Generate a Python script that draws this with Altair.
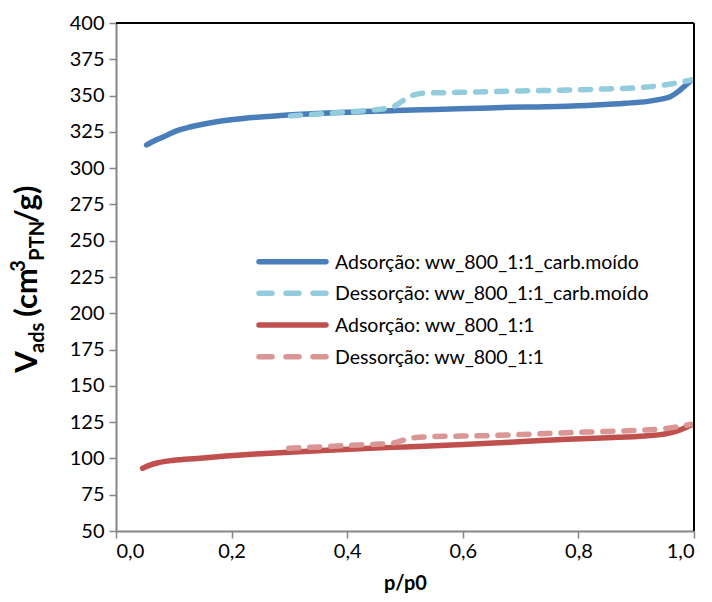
import altair as alt
import pandas as pd

# ---------------- data ----------------
names = [
    "Adsorção: ww_800_1:1_carb.moído",
    "Dessorção: ww_800_1:1_carb.moído",
    "Adsorção: ww_800_1:1",
    "Dessorção: ww_800_1:1",
]
colors = ["#4A7EBB", "#93CDDD", "#C0504D", "#D99694"]
dashed = [False, True, False, True]

p_ads_carb = [0.053, 0.07, 0.09, 0.106, 0.13, 0.174, 0.22, 0.275, 0.33, 0.376, 0.43, 0.477,
              0.53, 0.578, 0.63, 0.679, 0.73, 0.78, 0.83, 0.881, 0.92, 0.941, 0.958, 0.975, 0.995]
v_ads_carb = [316.0, 319.5, 323.0, 325.8, 328.5, 332.0, 334.2, 336.0, 337.3, 338.2, 339.0, 339.6,
              340.2, 340.7, 341.3, 341.9, 342.2, 342.6, 343.5, 344.7, 346.0, 347.4, 349.0, 353.5, 360.5]

p_des_carb = [0.302, 0.35, 0.40, 0.45, 0.477, 0.51, 0.53, 0.58, 0.645, 0.70, 0.78, 0.85,
              0.914, 0.96, 0.995]
v_des_carb = [336.0, 337.3, 338.7, 340.3, 341.9, 349.7, 351.6, 352.1, 352.7, 353.2, 353.8, 354.6,
              355.7, 358.0, 360.7]

p_ads = [0.046, 0.06, 0.073, 0.10, 0.14, 0.19, 0.242, 0.30, 0.376, 0.44, 0.511, 0.58,
         0.645, 0.71, 0.78, 0.85, 0.915, 0.955, 0.975, 0.995]
v_ads = [93.2, 95.5, 97.0, 98.7, 100.0, 101.6, 103.0, 104.3, 105.8, 107.0, 108.1, 109.3,
         110.4, 111.8, 113.2, 114.3, 115.5, 117.3, 119.5, 123.0]

p_des = [0.299, 0.35, 0.40, 0.45, 0.477, 0.51, 0.544, 0.60, 0.645, 0.70, 0.78, 0.85,
         0.915, 0.955, 0.995]
v_des = [107.0, 107.9, 108.9, 109.8, 110.4, 113.9, 115.0, 115.4, 115.7, 116.5, 117.7, 118.6,
         119.6, 120.8, 123.5]

x_ticks = [0.0, 0.2, 0.4, 0.6, 0.8, 1.0]
y_ticks = list(range(50, 401, 25))

series_p = [p_ads_carb, p_des_carb, p_ads, p_des]
series_v = [v_ads_carb, v_des_carb, v_ads, v_des]

rows = []
for i, (ps, vs) in enumerate(zip(series_p, series_v)):
    for p, v in zip(ps, vs):
        rows.append({"serie": names[i], "p": p, "v": v})
df = pd.DataFrame(rows)

# ---------------- layout ----------------
W, H = 578, 508
FONT = "Lato"
AXIS_GRAY = "#868686"
LW = 5.5

xscale = alt.Scale(domain=[0, 1], nice=False, zero=False)
yscale = alt.Scale(domain=[50, 400], nice=False, zero=False)

x_axis = alt.Axis(
    values=x_ticks, title="p/p0", grid=False,
    labelExpr="replace(format(datum.value, '.1f'), '.', ',')",
    labelFont=FONT, labelFontSize=20, labelColor="#000000", labelPadding=3,
    titleFont=FONT, titleFontSize=20, titleFontWeight="bold", titleColor="#000000",
    titlePadding=12,
    tickSize=7, tickColor=AXIS_GRAY, tickWidth=1.5,
    domainColor=AXIS_GRAY, domainWidth=2,
)
y_axis = alt.Axis(
    values=y_ticks, title=None, grid=False,
    labelFont=FONT, labelFontSize=20, labelColor="#000000", labelPadding=5,
    tickSize=7, tickColor=AXIS_GRAY, tickWidth=1.5,
    domainColor=AXIS_GRAY, domainWidth=2,
)

layers = []
for i in range(4):
    mk = dict(color=colors[i], strokeWidth=LW, strokeCap="round", strokeJoin="round",
              interpolate="monotone")
    if dashed[i]:
        mk["strokeDash"] = [10, 11]
    layers.append(
        alt.Chart(df).transform_filter(alt.datum.serie == names[i]).mark_line(**mk).encode(
            x=alt.X("p:Q", scale=xscale, axis=x_axis),
            y=alt.Y("v:Q", scale=yscale, axis=y_axis),
        )
    )

one = pd.DataFrame({"a": [0]})

# top and right frame (black)
frame_top = alt.Chart(one).mark_rule(color="#000000", strokeWidth=2).encode(
    x=alt.value(0), x2=alt.value(W), y=alt.value(0))
frame_right = alt.Chart(one).mark_rule(color="#000000", strokeWidth=2).encode(
    x=alt.value(W), y=alt.value(0), y2=alt.value(H))

# manual legend
leg_y = [238.7, 270.3, 302.0, 333.7]
leg_layers = []
for i in range(4):
    rk = dict(color=colors[i], strokeWidth=LW, strokeCap="round")
    if dashed[i]:
        rk["strokeDash"] = [13, 14]
    leg_layers.append(alt.Chart(one).mark_rule(**rk).encode(
        x=alt.value(143), x2=alt.value(210), y=alt.value(leg_y[i])))
    leg_layers.append(alt.Chart(one).mark_text(
        text=names[i], font=FONT, fontSize=19.5, color="#000000",
        align="left", baseline="middle").encode(
        x=alt.value(219), y=alt.value(leg_y[i] + 1)))

# y-axis title with sub/superscripts, rotated (reads bottom to top)
F = 31
FS = 20
xb = -79           # baseline of main text (plot-relative)
pieces = [
    ("V", F, xb, 0.64 * F),
    ("ads", FS, xb + 7, 1.47 * FS + 0.22 * F),
    ("(cm", F, xb, 1.45 * F),
    ("3", FS, xb - 12, 0.55 * FS),
    ("PTN", FS, xb + 7, 1.86 * FS),
    ("/g)", F, xb, 1.17 * F),
]
total = sum(p[3] for p in pieces)
ystart = 257 + total / 2
title_layers = []
cur = ystart
for txt, fs, xx, w in pieces:
    title_layers.append(alt.Chart(one).mark_text(
        text=txt, font=FONT, fontSize=fs, fontWeight="bold", color="#000000",
        angle=270, align="left", baseline="alphabetic").encode(
        x=alt.value(xx), y=alt.value(cur)))
    cur -= w

chart = alt.layer(*layers, frame_top, frame_right, *leg_layers, *title_layers).properties(
    width=W, height=H,
    autosize=alt.AutoSizeParams(type="none"),
    padding={"left": 108, "top": 15, "right": 10, "bottom": 62},
).configure_view(strokeWidth=0).configure(background="#ffffff")

chart.save("out.html", embed_options={"renderer": "svg", "actions": False})
